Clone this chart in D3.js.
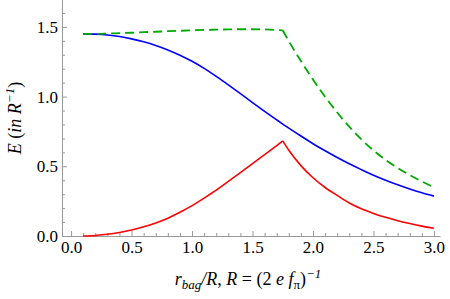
<!DOCTYPE html>
<html>
<head>
<meta charset="utf-8">
<script src="https://cdn.jsdelivr.net/npm/d3@7"></script>
<style>
  body { margin: 0; background: #fff; }
  svg { display: block; }
  .tick text { font-family: 'Liberation Serif', 'Times New Roman', serif; }
</style>
</head>
<body>
<div id="chart"></div>
<script>
// x positions (r_bag / R), split at the kink of the bag curves
const xLeft = [0.1, 0.2, 0.3, 0.4, 0.5, 0.6, 0.7, 0.8, 0.9, 1.0, 1.1, 1.2, 1.3, 1.4, 1.5, 1.6, 1.7, 1.75]
const xRight = [1.75, 1.8, 1.9, 2.0, 2.1, 2.2, 2.3, 2.4, 2.5, 2.6, 2.7, 2.8, 2.9, 3.0]

// blue solid curve
const blueLeft = [1.45, 1.448, 1.442, 1.431, 1.414, 1.393, 1.367, 1.335, 1.297, 1.253, 1.202, 1.145, 1.084, 1.021, 0.957, 0.894, 0.833, 0.803]
const blueRight = [0.803, 0.774, 0.717, 0.662, 0.611, 0.563, 0.518, 0.476, 0.436, 0.4, 0.367, 0.337, 0.31, 0.286]

// red solid curve
const redLeft = [0, 0.004, 0.012, 0.025, 0.043, 0.066, 0.094, 0.128, 0.17, 0.218, 0.272, 0.329, 0.392, 0.455, 0.519, 0.584, 0.649, 0.682]
const redRight = [0.682, 0.615, 0.505, 0.418, 0.348, 0.291, 0.237, 0.195, 0.162, 0.134, 0.11, 0.089, 0.071, 0.055]

// green dashed curve
const greenLeft = [1.45, 1.45, 1.452, 1.455, 1.458, 1.462, 1.465, 1.469, 1.472, 1.475, 1.478, 1.48, 1.482, 1.483, 1.483, 1.482, 1.478, 1.475]
const greenRight = [1.475, 1.398, 1.255, 1.122, 0.999, 0.886, 0.784, 0.693, 0.614, 0.546, 0.488, 0.437, 0.391, 0.349]

// ticks
const xMajor = [0, 0.5, 1.0, 1.5, 2.0, 2.5, 3.0]
const yMajor = [0, 0.5, 1.0, 1.5]
const xMinor = [0.1, 0.2, 0.3, 0.4, 0.6, 0.7, 0.8, 0.9, 1.1, 1.2, 1.3, 1.4, 1.6, 1.7, 1.8, 1.9, 2.1, 2.2, 2.3, 2.4, 2.6, 2.7, 2.8, 2.9]
const yMinor = [0.1, 0.2, 0.3, 0.4, 0.6, 0.7, 0.8, 0.9, 1.1, 1.2, 1.3, 1.4, 1.6, 1.7]

const width = 450
const height = 299

const svg = d3.select('#chart')
  .append('svg')
  .attr('width', width)
  .attr('height', height)

const xScale = d3.scaleLinear().domain([-0.075, 3.05]).range([62, 440])
const yScale = d3.scaleLinear().domain([0, 1.7]).range([236, -1])

const axisColor = '#999'
const font = "'Liberation Serif', 'Times New Roman', serif"

// x axis
svg.append('g')
  .attr('transform', 'translate(0,236)')
  .call(d3.axisBottom(xScale).tickValues(xMajor).tickFormat(d3.format('.1f'))
    .tickSizeInner(-5).tickSizeOuter(0).tickPadding(5))
  .attr('font-family', font)
  .attr('font-size', 17)
svg.append('g')
  .attr('transform', 'translate(0,236)')
  .call(d3.axisBottom(xScale).tickValues(xMinor).tickFormat('')
    .tickSizeInner(-3).tickSizeOuter(0))
  .call(g => g.select('.domain').remove())

// y axis
svg.append('g')
  .attr('transform', 'translate(62,0)')
  .call(d3.axisLeft(yScale).tickValues(yMajor).tickFormat(d3.format('.1f'))
    .tickSizeInner(-5).tickSizeOuter(0).tickPadding(4))
  .attr('font-family', font)
  .attr('font-size', 17)
svg.append('g')
  .attr('transform', 'translate(62,0)')
  .call(d3.axisLeft(yScale).tickValues(yMinor).tickFormat('')
    .tickSizeInner(-3).tickSizeOuter(0))
  .call(g => g.select('.domain').remove())

svg.selectAll('.domain, .tick line').attr('stroke', axisColor)
svg.selectAll('.tick text').attr('fill', '#000')

// curves
const smoothLine = d3.line()
  .x(d => xScale(d[0]))
  .y(d => yScale(d[1]))
  .curve(d3.curveMonotoneX)

const pairs = (xs, ys) => xs.map((x, i) => [x, ys[i]])

const plot = svg.append('g')

// blue is smooth through the kink point
plot.append('path')
  .datum(pairs(xLeft, blueLeft).concat(pairs(xRight, blueRight).slice(1)))
  .attr('d', smoothLine)
  .attr('fill', 'none')
  .attr('stroke', '#0000ff')
  .attr('stroke-width', 1.6)

;[[xLeft, redLeft], [xRight, redRight]].forEach(([xs, ys]) => {
  plot.append('path')
    .datum(pairs(xs, ys))
    .attr('d', smoothLine)
    .attr('fill', 'none')
    .attr('stroke', '#ff0000')
    .attr('stroke-width', 1.6)
})

;[[xLeft, greenLeft], [xRight, greenRight]].forEach(([xs, ys]) => {
  plot.append('path')
    .datum(pairs(xs, ys))
    .attr('d', smoothLine)
    .attr('fill', 'none')
    .attr('stroke', '#00aa00')
    .attr('stroke-width', 1.8)
    .attr('stroke-dasharray', '9,5')
})

// y axis title
const yTitle = svg.append('text')
  .attr('transform', 'translate(21,118) rotate(-90)')
  .attr('text-anchor', 'middle')
  .attr('font-family', font)
  .attr('font-size', 18)
yTitle.append('tspan').attr('font-style', 'italic').text('E')
yTitle.append('tspan').text(' (')
yTitle.append('tspan').attr('font-style', 'italic').text('in R')
yTitle.append('tspan').attr('font-style', 'italic').attr('font-size', 13).attr('dy', -7).text('\u22121')
yTitle.append('tspan').attr('dy', 7).text(')')

// x axis title
const xTitle = svg.append('text')
  .attr('x', 248)
  .attr('y', 285)
  .attr('text-anchor', 'middle')
  .attr('font-family', font)
  .attr('font-size', 18)
xTitle.append('tspan').attr('font-style', 'italic').text('r')
xTitle.append('tspan').attr('font-style', 'italic').attr('font-size', 13).attr('dy', 4).text('bag')
xTitle.append('tspan').attr('font-style', 'italic').attr('dy', -4).text('/R')
xTitle.append('tspan').text(', ')
xTitle.append('tspan').attr('font-style', 'italic').text('R')
xTitle.append('tspan').text(' = (2 ')
xTitle.append('tspan').attr('font-style', 'italic').text('e f')
xTitle.append('tspan').attr('font-size', 13).attr('dy', 4).text('\u03c0')
xTitle.append('tspan').attr('dy', -4).text(')')
xTitle.append('tspan').attr('font-style', 'italic').attr('font-size', 13).attr('dy', -7).text('\u22121')
</script>
</body>
</html>
